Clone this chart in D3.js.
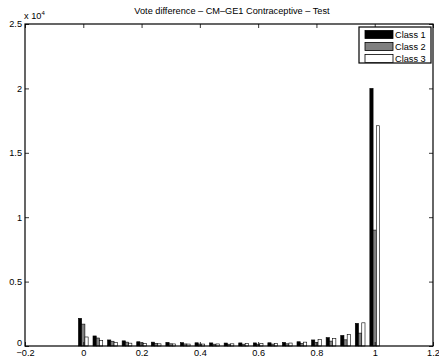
<!DOCTYPE html>
<html>
<head>
<meta charset="utf-8">
<script src="https://cdn.jsdelivr.net/npm/d3@7"></script>
<style>
  body { margin: 0; background: #fff; }
  svg { display: block; }
  text { font-family: "Liberation Sans", Arial, Helvetica, sans-serif; fill: #000; }
</style>
</head>
<body>
<svg id="chart" width="439" height="358"></svg>
<script>
// bin centres of the vote difference histogram
var bins = [0, 0.05, 0.1, 0.15, 0.2, 0.25, 0.3, 0.35, 0.4, 0.45, 0.5,
            0.55, 0.6, 0.65, 0.7, 0.75, 0.8, 0.85, 0.9, 0.95, 1]

var class1 = [2150, 780, 470, 400, 330, 300, 280, 260, 250, 240, 230,
              240, 240, 250, 280, 330, 470, 650, 820, 1760, 20000]
var class2 = [1700, 620, 370, 300, 250, 200, 170, 160, 150, 140, 140,
              140, 140, 150, 170, 200, 270, 380, 480, 1000, 9000]
var class3 = [700, 420, 280, 220, 180, 170, 160, 150, 150, 160, 170,
              180, 190, 200, 230, 300, 500, 570, 880, 1800, 17100]

var seriesNames = ["Class 1", "Class 2", "Class 3"]
var xTicks = [-0.2, 0, 0.2, 0.4, 0.6, 0.8, 1, 1.2]
var yTicks = [0, 5000, 10000, 15000, 20000, 25000]

var series = [class1, class2, class3]
var fs = 9.2

var svg = d3.select("#chart"),
    margin = {top: 24, left: 25, bottom: 12, right: 6},
    width = +svg.attr("width"),
    height = +svg.attr("height");

var x = d3.scaleLinear()
    .domain([-0.2, 1.2])
    .range([margin.left, width - margin.right])

var y = d3.scaleLinear()
    .domain([0, 25000])
    .range([height - margin.bottom, margin.top])

var z = d3.scaleOrdinal()
    .domain(seriesNames)
    .range(["#000000", "#808080", "#ffffff"])

// grouped bars, matlab style
var step = x(0.05) - x(0)
var groupW = step * 0.667
var barW = groupW / 3

var data = []
bins.forEach(function(b, i) {
    series.forEach(function(s, k) {
        data.push({bin: b, k: k, value: s[i]})
    })
})

svg.append("g").selectAll("rect")
    .data(data)
  .enter().append("rect")
    .attr("x", d => x(d.bin) - groupW / 2 + d.k * barW)
    .attr("y", d => y(d.value))
    .attr("width", barW)
    .attr("height", d => y(0) - y(d.value))
    .attr("fill", d => z(seriesNames[d.k]))
    .attr("stroke", "#000")
    .attr("stroke-width", 0.6)

// axes box
var x0 = x.range()[0], x1 = x.range()[1], y0 = y.range()[0], y1 = y.range()[1]

svg.append("g")
    .attr("transform", `translate(0,${y0})`)
    .call(d3.axisBottom(x).tickValues(xTicks).tickSize(-4).tickPadding(3)
        .tickFormat(d => d3.format("")(+d.toFixed(1))))
svg.append("g")
    .attr("transform", `translate(0,${y1})`)
    .call(d3.axisTop(x).tickValues(xTicks).tickSize(-4).tickFormat(""))
var yAxis = svg.append("g")
    .attr("transform", `translate(${x0},0)`)
    .call(d3.axisLeft(y).tickValues(yTicks).tickSize(-4).tickPadding(3)
        .tickFormat(d => d3.format("")(d / 10000)))
svg.append("g")
    .attr("transform", `translate(${x1},0)`)
    .call(d3.axisRight(y).tickValues(yTicks).tickSize(-4).tickFormat(""))

svg.selectAll(".domain").remove()
svg.selectAll(".tick line").attr("stroke", "#000").attr("stroke-width", 0.8)
svg.selectAll(".tick text").attr("font-size", fs).style("font-family", "'Liberation Sans', Arial, sans-serif")
// keep the y zero label clear of the -0.2 label
yAxis.selectAll(".tick text").filter(d => d === 0).attr("dy", "-0.05em")

svg.append("rect")
    .attr("x", x0).attr("y", y1)
    .attr("width", x1 - x0).attr("height", y0 - y1)
    .attr("fill", "none").attr("stroke", "#000").attr("stroke-width", 1.2)

// exponent label
var ex = svg.append("text")
    .attr("x", x0 - 1).attr("y", y1 - 5)
    .attr("font-size", fs)
ex.append("tspan").text("x 10")
ex.append("tspan").attr("font-size", 6).attr("dy", -4).text("4")

// title
svg.append("text")
    .attr("x", (x0 + x1) / 2 + 3)
    .attr("y", 14)
    .attr("text-anchor", "middle")
    .attr("font-size", fs)
    .text("Vote difference \u2013 CM\u2013GE1 Contraceptive \u2013 Test")

// legend
var lg = svg.append("g").attr("transform", "translate(359,27)")
lg.append("rect")
    .attr("width", 72).attr("height", 36)
    .attr("fill", "#fff").attr("stroke", "#000").attr("stroke-width", 1.2)

var item = lg.selectAll(".item")
    .data(seriesNames)
  .enter().append("g")
    .attr("class", "item")
    .attr("transform", (d, i) => `translate(6,${3.5 + i * 12})`)

item.append("rect")
    .attr("width", 28).attr("height", 8)
    .attr("fill", d => z(d))
    .attr("stroke", "#000").attr("stroke-width", 0.8)

item.append("text")
    .attr("x", 30).attr("y", 7.8)
    .attr("font-size", fs)
    .text(d => d)
</script>
</body>
</html>
